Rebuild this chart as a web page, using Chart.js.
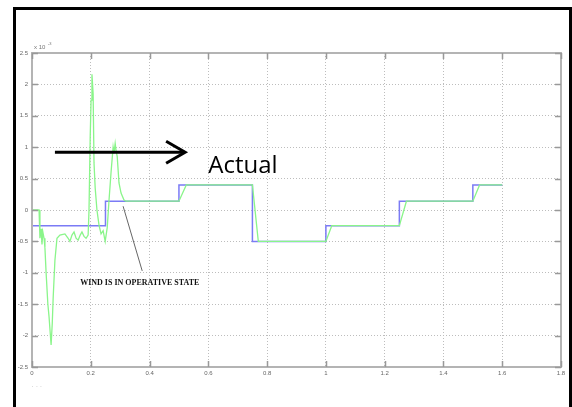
<!DOCTYPE html>
<html>
<head>
<meta charset="utf-8">
<script src="https://cdn.jsdelivr.net/npm/chart.js@4.4.1/dist/chart.umd.min.js"></script>
<style>
    html, body { margin: 0; padding: 0; background: #fff; }
    #wrap { position: relative; width: 572px; height: 407px; }
</style>
</head>
<body>
<div id="wrap"><canvas id="windChart" width="572" height="407"></canvas></div>
<script>
// reference (blue) step signal
const refX = [0, 0.25, 0.25, 0.5, 0.5, 0.75, 0.75, 1.0, 1.0, 1.25, 1.25, 1.5, 1.5, 1.6];
const refY = [-0.25, -0.25, 0.14, 0.14, 0.4, 0.4, -0.5, -0.5, -0.25, -0.25, 0.14, 0.14, 0.4, 0.4];

// actual (green) response
const actX = [0, 0.024, 0.027, 0.031, 0.034, 0.037, 0.041, 0.044, 0.048, 0.054, 0.058, 0.065, 0.069, 0.072,
    0.078, 0.085, 0.095, 0.112, 0.123, 0.129, 0.136, 0.143, 0.150, 0.157, 0.164, 0.170, 0.177, 0.184, 0.191,
    0.194, 0.198, 0.201, 0.204, 0.208, 0.211, 0.215, 0.221, 0.228, 0.235, 0.242, 0.249, 0.256, 0.262, 0.269,
    0.276, 0.279, 0.283, 0.286, 0.290, 0.296, 0.303, 0.313, 0.320,
    0.5, 0.525, 0.75, 0.77, 1.0, 1.02, 1.25, 1.274, 1.5, 1.523, 1.6];
const actY = [0, 0, -0.45, -0.3, -0.55, -0.35, -0.45, -0.6, -1.0, -1.5, -1.7, -2.15, -1.8, -1.4,
    -0.8, -0.45, -0.4, -0.38, -0.45, -0.5, -0.4, -0.35, -0.45, -0.48, -0.4, -0.35, -0.42, -0.45, -0.4,
    0, 1.15, 1.75, 2.16, 1.85, 0.75, 0.35, 0, -0.24, -0.38, -0.33, -0.5, -0.28, 0.15, 0.6,
    1.0, 0.9, 1.06, 0.95, 0.85, 0.43, 0.27, 0.16, 0.14,
    0.14, 0.4, 0.4, -0.5, -0.5, -0.25, -0.25, 0.14, 0.14, 0.4, 0.4];

const xTicks = [0, 0.2, 0.4, 0.6, 0.8, 1, 1.2, 1.4, 1.6, 1.8];
const yTicks = [2.5, 2, 1.5, 1, 0.5, 0, -0.5, -1, -1.5, -2, -2.5];

const toPoints = (xs, ys) => xs.map((x, i) => ({ x: x, y: ys[i] }));

// frame, box, inner ticks and the hand-drawn annotations
const decorPlugin = {
    id: 'decor',
    afterDraw(chart) {
        const ctx = chart.ctx;
        const a = chart.chartArea;
        const sx = chart.scales.x, sy = chart.scales.y;
        ctx.save();

        // outer black frame
        ctx.strokeStyle = '#000';
        ctx.lineWidth = 3;
        ctx.strokeRect(14.5, 8.5, 556, 410);

        // axes box
        ctx.strokeStyle = '#b4b4b4';
        ctx.lineWidth = 2;
        ctx.strokeRect(a.left, a.top, a.right - a.left, a.bottom - a.top);

        // inward tick marks
        ctx.strokeStyle = '#999';
        ctx.lineWidth = 1.5;
        xTicks.forEach(v => {
            const px = Math.round(sx.getPixelForValue(v)) + 0.5;
            ctx.beginPath();
            ctx.moveTo(px, a.bottom); ctx.lineTo(px, a.bottom - 6);
            ctx.moveTo(px, a.top); ctx.lineTo(px, a.top + 6);
            ctx.stroke();
        });
        yTicks.forEach(v => {
            const py = Math.round(sy.getPixelForValue(v)) + 0.5;
            ctx.beginPath();
            ctx.moveTo(a.left, py); ctx.lineTo(a.left + 6, py);
            ctx.moveTo(a.right, py); ctx.lineTo(a.right - 6, py);
            ctx.stroke();
        });

        // exponent label
        ctx.fillStyle = '#777';
        ctx.font = '6px "Liberation Sans"';
        ctx.textAlign = 'left';
        ctx.textBaseline = 'alphabetic';
        ctx.fillText('x 10', a.left + 2, a.top - 4);
        ctx.font = '4px "Liberation Sans"';
        ctx.fillText('-3', a.left + 16, a.top - 8);
        ctx.font = '5px "Liberation Sans"';
        ctx.fillText('.  .  .', a.left, a.bottom + 20);

        // arrow
        const ax0 = sx.getPixelForValue(0.078), ax1 = sx.getPixelForValue(0.521);
        const ay = sy.getPixelForValue(0.92);
        ctx.strokeStyle = '#000';
        ctx.lineWidth = 3;
        ctx.lineCap = 'butt';
        ctx.beginPath();
        ctx.moveTo(ax0, ay); ctx.lineTo(ax1 - 1, ay);
        ctx.stroke();
        ctx.beginPath();
        ctx.moveTo(ax1 - 19, ay - 11); ctx.lineTo(ax1, ay); ctx.lineTo(ax1 - 19, ay + 11);
        ctx.stroke();

        // label "Actual"
        ctx.fillStyle = '#000';
        ctx.font = '24px "Open Sans"';
        ctx.textAlign = 'left';
        ctx.textBaseline = 'alphabetic';
        ctx.fillText('Actual', sx.getPixelForValue(0.6), sy.getPixelForValue(0.59));

        // leader line + note
        ctx.strokeStyle = '#666';
        ctx.lineWidth = 1;
        ctx.beginPath();
        ctx.moveTo(sx.getPixelForValue(0.310), sy.getPixelForValue(0.06));
        ctx.lineTo(sx.getPixelForValue(0.375), sy.getPixelForValue(-0.97));
        ctx.stroke();
        ctx.fillStyle = '#111';
        ctx.font = 'bold 8px "Liberation Serif"';
        ctx.fillText('WIND IS IN OPERATIVE STATE', sx.getPixelForValue(0.164), sy.getPixelForValue(-1.2));

        ctx.restore();
    }
};

new Chart(document.getElementById('windChart'), {
    type: 'scatter',
    data: {
        datasets: [
            {
                label: 'Actual',
                data: toPoints(actX, actY),
                showLine: true,
                borderColor: '#8af58a',
                borderWidth: 1.3,
                pointRadius: 0,
                tension: 0,
                order: 0
            },
            {
                label: 'Reference',
                data: toPoints(refX, refY),
                showLine: true,
                borderColor: '#7b7bf5',
                borderWidth: 1.5,
                pointRadius: 0,
                tension: 0,
                order: 1
            }
        ]
    },
    options: {
        responsive: false,
        animation: false,
        events: [],
        layout: { padding: { top: 53, right: 11, left: 0, bottom: 0 } },
        plugins: { legend: { display: false }, tooltip: { enabled: false } },
        scales: {
            x: {
                type: 'linear',
                min: 0,
                max: 1.8,
                afterBuildTicks: s => { s.ticks = xTicks.map(v => ({ value: v })); },
                afterFit: s => { s.height = 40; },
                grid: { color: '#bdbdbd', drawTicks: false, lineWidth: 1 },
                border: { display: false, dash: [1, 2] },
                ticks: {
                    color: '#666',
                    font: { size: 6, family: 'Liberation Sans' },
                    padding: 3,
                    maxRotation: 0,
                    callback: v => String(Math.round(v * 10) / 10)
                }
            },
            y: {
                type: 'linear',
                min: -2.5,
                max: 2.5,
                afterBuildTicks: s => { s.ticks = yTicks.map(v => ({ value: v })); },
                afterFit: s => { s.width = 32; },
                grid: { color: '#bdbdbd', drawTicks: false, lineWidth: 1 },
                border: { display: false, dash: [1, 2] },
                ticks: {
                    color: '#666',
                    font: { size: 6, family: 'Liberation Sans' },
                    padding: 4,
                    callback: v => String(v)
                }
            }
        }
    },
    plugins: [decorPlugin]
});
</script>
</body>
</html>
